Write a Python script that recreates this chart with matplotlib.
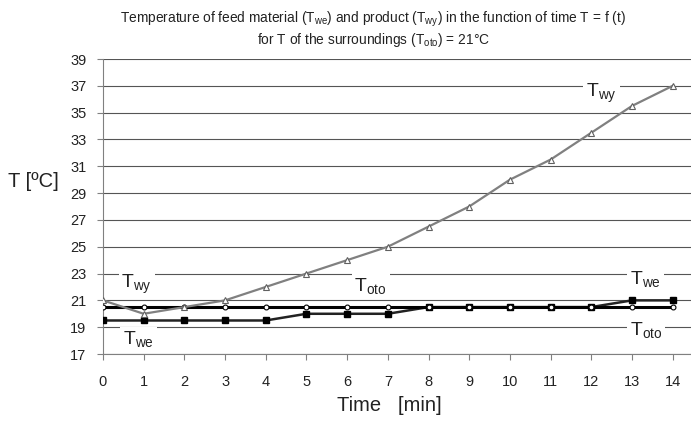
import numpy as np
import matplotlib.pyplot as plt

plt.rcParams['font.family'] = ['Liberation Sans', 'DejaVu Sans']
plt.rcParams['mathtext.default'] = 'regular'

time = [0, 1, 2, 3, 4, 5, 6, 7, 8, 9, 10, 11, 12, 13, 14]
t_wy = [21, 20, 20.5, 21, 22, 23, 24, 25, 26.5, 28, 30, 31.5, 33.5, 35.5, 37]
t_oto = [20.5, 20.5, 20.5, 20.5, 20.5, 20.5, 20.5, 20.5, 20.5, 20.5, 20.5, 20.5, 20.5, 20.5, 20.5]
t_we = [19.5, 19.5, 19.5, 19.5, 19.5, 20, 20, 20, 20.5, 20.5, 20.5, 20.5, 20.5, 21, 21]
yticks = np.arange(17, 40, 2)

fig = plt.figure(figsize=(6.91, 4.26), dpi=100)
ax = fig.add_axes([0.149, 0.169, 0.851, 0.6925])

ax.plot(time, t_oto, color='black', lw=2.2, marker='o', ms=3.5,
        mfc='white', mec='black', mew=0.8, zorder=4)
ax.plot(time, t_we, color='#222222', lw=1.8, marker='s', ms=4,
        mfc='black', mec='black', zorder=3)
ax.plot(time, t_wy, color='#808080', lw=1.6, marker='^', ms=4,
        mfc='white', mec='#606060', mew=0.8, zorder=5)

ax.set_xlim(0, 14.45)
ax.set_ylim(17, 39)
ax.set_xticks(time)
ax.set_yticks(yticks)
ax.grid(axis='y', color='#555555', lw=0.8)
ax.set_axisbelow(True)
for s in ['top', 'right']:
    ax.spines[s].set_visible(False)
for s in ['left', 'bottom']:
    ax.spines[s].set_color('#808080')
ax.tick_params(axis='both', colors='#808080', labelcolor='#222222',
               labelsize=10.5, length=4)
ax.tick_params(axis='x', pad=11)
ax.tick_params(axis='y', pad=8)

box = dict(facecolor='white', edgecolor='none', pad=2)
kw = dict(fontsize=14, ha='left', va='center', color='#222222', bbox=box, zorder=2)
ax.text(0.45, 22.2, r'T$_{wy}$', **kw)
ax.text(6.18, 22.1, r'T$_{oto}$', **kw)
ax.text(12.95, 22.6, r'T$_{we}$', **kw)
ax.text(11.87, 36.4, r'T$_{wy}$', **kw)
ax.text(0.49, 18.1, r'T$_{we}$', **kw)
ax.text(12.95, 18.8, r'T$_{oto}$', **kw)

fig.text(0.012, 0.575, 'T [ºC]', fontsize=14.5, color='#222222', va='center')
fig.text(0.563, 0.035, 'Time   [min]', fontsize=14.5, color='#222222', ha='center')
fig.text(0.54, 0.955,
         'Temperature of feed material (T$_{we}$) and product (T$_{wy}$) in the function of time T = f (t)',
         fontsize=9.9, color='#222222', ha='center', va='center')
fig.text(0.54, 0.905, 'for T of the surroundings (T$_{oto}$) = 21°C',
         fontsize=9.9, color='#222222', ha='center', va='center')

fig.savefig('out.png', dpi=100)
